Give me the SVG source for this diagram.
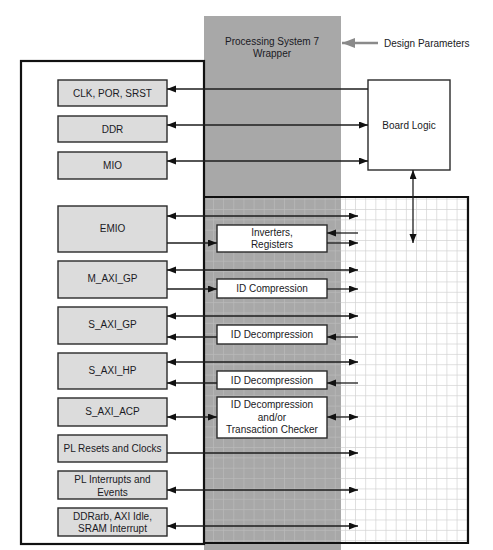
<svg xmlns="http://www.w3.org/2000/svg" width="493" height="550" viewBox="0 0 493 550">
<defs>
<style>
text{font-family:"Liberation Sans",Arial,sans-serif;font-size:10px;fill:#1a1a24;text-anchor:middle}
.blk{fill:#dcdcdc;stroke:#2a2a2a;stroke-width:1.4}
.wbox{fill:#fff;stroke:#2a2a2a;stroke-width:1.4}
.ln{stroke:#1e1e1e;stroke-width:1.3;fill:none}
.gw{stroke:#bdbdbd;stroke-width:1.3}
.gg{stroke:#d2d2d2;stroke-width:1.3}
.frame{fill:none;stroke:#111;stroke-width:2.2}
</style>
<marker id="ah" markerUnits="userSpaceOnUse" markerWidth="10" markerHeight="8" refX="9" refY="3.5" orient="auto-start-reverse"><path d="M0,0 L9,3.5 L0,7 z" fill="#111"/></marker>
<marker id="ahg" markerUnits="userSpaceOnUse" markerWidth="14" markerHeight="12" refX="13" refY="5" orient="auto"><path d="M0,0 L13,5 L0,10 z" fill="#8a8a8a"/></marker>
<pattern id="gridW" x="213" y="209" width="10.15" height="10.35" patternUnits="userSpaceOnUse"><path d="M0,0 H10.15 M0,0 V10.35" stroke="#d3d3d3" stroke-width="1.4" fill="none"/></pattern>
<pattern id="gridG" x="213" y="209" width="10.15" height="10.35" patternUnits="userSpaceOnUse"><path d="M0,0 H10.15 M0,0 V10.35" stroke="#bababa" stroke-width="1.4" fill="none"/></pattern>
</defs>
<g id="background">
<rect x="0" y="0" width="493" height="550" fill="#fff"/>
<rect x="204" y="16" width="137" height="534" fill="#a8a8a8"/>
<rect x="341" y="197" width="127" height="346" fill="url(#gridW)"/>
<rect x="204" y="197" width="137" height="346" fill="url(#gridG)"/>
<rect x="21" y="61" width="183" height="483" class="frame"/>
<path d="M204,197 H468 V543 H204" class="frame"/>
</g>
<g id="wrapper-label">
<text x="272" y="45">Processing System 7</text>
<text x="272" y="57">Wrapper</text>
</g>
<g id="design-parameters">
<text x="384" y="47" style="text-anchor:start">Design Parameters</text>
</g>
<g id="clk"><rect x="58" y="80" width="109" height="26" class="blk"/><text x="112.5" y="96.5">CLK, POR, SRST</text></g>
<g id="ddr"><rect x="58" y="116" width="109" height="26" class="blk"/><text x="112.5" y="132.5">DDR</text></g>
<g id="mio"><rect x="58" y="152" width="109" height="27" class="blk"/><text x="112.5" y="168.5">MIO</text></g>
<g id="emio"><rect x="58" y="206" width="109" height="46" class="blk"/><text x="112.5" y="232">EMIO</text></g>
<g id="m_axi_gp"><rect x="58" y="261" width="109" height="37" class="blk"/><text x="112.5" y="282">M_AXI_GP</text></g>
<g id="s_axi_gp"><rect x="58" y="307" width="109" height="37" class="blk"/><text x="112.5" y="328">S_AXI_GP</text></g>
<g id="s_axi_hp"><rect x="58" y="353" width="109" height="36" class="blk"/><text x="112.5" y="374">S_AXI_HP</text></g>
<g id="s_axi_acp"><rect x="58" y="398" width="109" height="28" class="blk"/><text x="112.5" y="415">S_AXI_ACP</text></g>
<g id="pl_resets"><rect x="58" y="435" width="109" height="27" class="blk"/><text x="112.5" y="452">PL Resets and Clocks</text></g>
<g id="pl_interrupts"><rect x="58" y="471" width="109" height="28" class="blk"/><text x="112.5" y="482.5">PL Interrupts and</text><text x="112.5" y="495.5">Events</text></g>
<g id="ddrarb"><rect x="58" y="508" width="109" height="28" class="blk"/><text x="112.5" y="519.5">DDRarb, AXI Idle,</text><text x="112.5" y="532">SRAM Interrupt</text></g>
<g id="inverters"><rect x="217" y="225" width="110" height="27" class="wbox"/><text x="272" y="236">Inverters,</text><text x="272" y="248">Registers</text></g>
<g id="id_compression"><rect x="217" y="279" width="110" height="19" class="wbox"/><text x="272" y="292">ID Compression</text></g>
<g id="id_decompression1"><rect x="217" y="325" width="110" height="19" class="wbox"/><text x="272" y="338">ID Decompression</text></g>
<g id="id_decompression2"><rect x="217" y="371" width="110" height="18" class="wbox"/><text x="272" y="384">ID Decompression</text></g>
<g id="id_decomp_checker"><rect x="217" y="397" width="110" height="41" class="wbox"/><text x="272" y="408">ID Decompression</text><text x="272" y="420.5">and/or</text><text x="272" y="433">Transaction Checker</text></g>
<g id="board_logic"><rect x="368" y="80" width="82" height="90" class="wbox"/><text x="409" y="128.5">Board Logic</text></g>
<g id="connectors">
<line x1="378" y1="43" x2="342" y2="43" stroke="#8a8a8a" stroke-width="2.6" marker-end="url(#ahg)"/>
<line x1="368" y1="89" x2="167" y2="89" class="ln" marker-end="url(#ah)"/>
<line x1="167" y1="125" x2="368" y2="125" class="ln" marker-start="url(#ah)" marker-end="url(#ah)"/>
<line x1="167" y1="161" x2="368" y2="161" class="ln" marker-start="url(#ah)" marker-end="url(#ah)"/>
<line x1="413" y1="170" x2="413" y2="243" class="ln" marker-start="url(#ah)" marker-end="url(#ah)"/>
<line x1="167" y1="216" x2="358" y2="216" class="ln" marker-start="url(#ah)" marker-end="url(#ah)"/>
<line x1="167" y1="243" x2="217" y2="243" class="ln" marker-end="url(#ah)"/>
<line x1="358" y1="233" x2="327" y2="233" class="ln" marker-end="url(#ah)"/>
<line x1="327" y1="243" x2="358" y2="243" class="ln" marker-end="url(#ah)"/>
<line x1="167" y1="270" x2="358" y2="270" class="ln" marker-start="url(#ah)" marker-end="url(#ah)"/>
<line x1="167" y1="289" x2="217" y2="289" class="ln" marker-end="url(#ah)"/>
<line x1="327" y1="289" x2="358" y2="289" class="ln" marker-end="url(#ah)"/>
<line x1="167" y1="316" x2="358" y2="316" class="ln" marker-start="url(#ah)" marker-end="url(#ah)"/>
<line x1="358" y1="337" x2="327" y2="337" class="ln" marker-end="url(#ah)"/>
<line x1="217" y1="337" x2="167" y2="337" class="ln" marker-end="url(#ah)"/>
<line x1="167" y1="362" x2="358" y2="362" class="ln" marker-start="url(#ah)" marker-end="url(#ah)"/>
<line x1="358" y1="383" x2="327" y2="383" class="ln" marker-end="url(#ah)"/>
<line x1="217" y1="383" x2="167" y2="383" class="ln" marker-end="url(#ah)"/>
<line x1="167" y1="417" x2="217" y2="417" class="ln" marker-start="url(#ah)" marker-end="url(#ah)"/>
<line x1="327" y1="417" x2="358" y2="417" class="ln" marker-start="url(#ah)" marker-end="url(#ah)"/>
<line x1="167" y1="453" x2="358" y2="453" class="ln" marker-end="url(#ah)"/>
<line x1="167" y1="490" x2="358" y2="490" class="ln" marker-start="url(#ah)" marker-end="url(#ah)"/>
<line x1="167" y1="526" x2="358" y2="526" class="ln" marker-start="url(#ah)" marker-end="url(#ah)"/>
</g>
</svg>
